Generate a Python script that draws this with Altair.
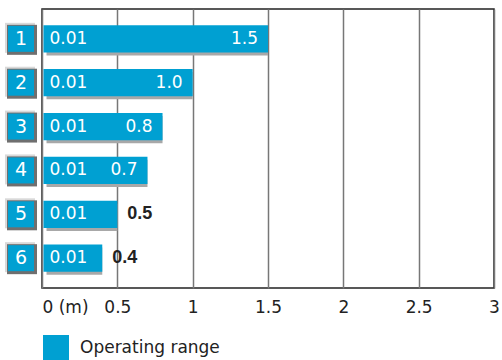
import altair as alt
import pandas as pd

# Sensor operating ranges (m) per model row
rows = ["1", "2", "3", "4", "5", "6"]
range_start = [0.01, 0.01, 0.01, 0.01, 0.01, 0.01]
range_end = [1.5, 1.0, 0.8, 0.7, 0.5, 0.4]
x_ticks = [0, 0.5, 1, 1.5, 2, 2.5, 3]
legend_label = "Operating range"

BLUE = "#00a0d2"
FONT = "DejaVu Sans"
INK = "#222222"

df = pd.DataFrame({
    "row": rows,
    "start": range_start,
    "end": range_end,
    "series": [legend_label] * len(rows),
})

y_enc = alt.Y(
    "row:N", sort=rows, axis=None,
    scale=alt.Scale(paddingInner=0.38, paddingOuter=0.37),
)
x_scale = alt.Scale(domain=[0, 3], nice=False, zero=True)
x_axis = alt.Axis(
    values=x_ticks, title=None, grid=True, ticks=False, domain=False,
    gridColor="#777777", gridWidth=1.5,
    labelFont=FONT, labelFontSize=17, labelColor=INK, labelPadding=11,
    labelFlush=False,
    labelExpr="datum.value == 0 ? '0 (m)' : format(datum.value, '~g')",
    labelAlign=alt.expr("datum.value == 0 ? 'left' : 'center'"),
)

base = alt.Chart(df)

shadow = base.mark_bar(color="#a8a8a8", xOffset=3, yOffset=3).encode(
    x=alt.X("start:Q", scale=x_scale, axis=x_axis),
    x2="end:Q",
    y=y_enc,
)

bars = base.mark_bar().encode(
    x=alt.X("start:Q", scale=x_scale),
    x2="end:Q",
    y=y_enc,
    color=alt.Color(
        "series:N",
        scale=alt.Scale(domain=[legend_label], range=[BLUE]),
        legend=alt.Legend(
            title=None, orient="none", legendX=1, legendY=326,
            symbolType="square", symbolSize=676, symbolStrokeWidth=0,
            symbolOffset=0, padding=0, labelOffset=11,
            labelFont=FONT, labelFontSize=17, labelColor=INK,
        ),
    ),
)

start_labels = base.mark_text(
    align="left", baseline="middle", dx=6, color="white",
    font=FONT, fontSize=17,
).encode(
    x=alt.X("start:Q", scale=x_scale),
    y=y_enc,
    text=alt.Text("start:Q", format=".2f"),
)

end_inside = base.transform_filter(alt.datum.end >= 0.6).mark_text(
    align="right", baseline="middle", dx=-10, color="white",
    font=FONT, fontSize=17,
).encode(
    x=alt.X("end:Q", scale=x_scale),
    y=y_enc,
    text=alt.Text("end:Q", format=".1f"),
)

end_outside = base.transform_filter(alt.datum.end < 0.6).mark_text(
    align="left", baseline="middle", dx=10, color=INK,
    font="Liberation Sans", fontSize=18, fontWeight="bold",
).encode(
    x=alt.X("end:Q", scale=x_scale),
    y=y_enc,
    text=alt.Text("end:Q", format=".1f"),
)

# Bevelled row-number buttons in the left margin
btn_light = base.mark_square(size=900, color="#d9d9d9", opacity=1, strokeWidth=0,
                             yOffset=-1).encode(x=alt.value(-22), y=y_enc)
btn_dark = base.mark_square(size=900, color="#6f6f6f", opacity=1, strokeWidth=0,
                            yOffset=1).encode(x=alt.value(-20), y=y_enc)
btn_face = base.mark_square(size=676, color=BLUE, opacity=1,
                            strokeWidth=0).encode(x=alt.value(-21), y=y_enc)
btn_text = base.mark_text(align="center", baseline="middle", color="white",
                          font=FONT, fontSize=19).encode(
    x=alt.value(-21), y=y_enc, text="row:N")

chart = alt.layer(
    shadow, bars, start_labels, end_inside, end_outside,
    btn_light, btn_dark, btn_face, btn_text,
).properties(
    width=452, height=279,
    autosize=alt.AutoSizeParams(type="none"),
    padding={"left": 42, "top": 9, "right": 8, "bottom": 72},
).configure_view(
    stroke=INK, strokeWidth=1.5,
)

chart.save("out.html", embed_options={"renderer": "svg", "actions": False})
